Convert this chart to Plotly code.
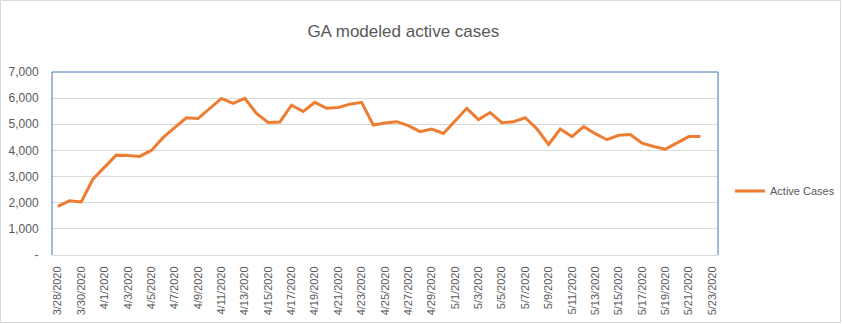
import datetime as dt
import plotly.graph_objects as go

# Daily modeled active cases, starting 3/28/2020
start_date = dt.date(2020, 3, 28)
active_cases = [
    1860, 2070, 2030, 2900, 3360, 3820, 3810, 3770, 4000, 4490,
    4870, 5250, 5220, 5610, 5990, 5800, 5990, 5420, 5070, 5090,
    5730, 5490, 5840, 5610, 5640, 5770, 5840, 4970, 5050, 5100,
    4950, 4720, 4820, 4650, 5130, 5610, 5180, 5450, 5060, 5100,
    5250, 4830, 4230, 4820, 4530, 4910, 4640, 4410, 4580, 4610,
    4280, 4150, 4050, 4300, 4530, 4530,
]
dates = [start_date + dt.timedelta(days=i) for i in range(len(active_cases))]

# Axis ticks
y_tickvals = [0, 1000, 2000, 3000, 4000, 5000, 6000, 7000]
y_ticktext = ["-", "1,000", "2,000", "3,000", "4,000", "5,000", "6,000", "7,000"]
axis_end = dt.date(2020, 5, 23)
x_tickvals = []
d = start_date
while d <= axis_end:
    x_tickvals.append(d)
    d += dt.timedelta(days=2)
x_ticktext = [f"{t.month}/{t.day}/{t.year}" for t in x_tickvals]

FONT = "Liberation Sans"
GREY_TEXT = "#595959"

PLOT_L, PLOT_R, PLOT_T, PLOT_B = 52, 718, 72, 255
W, H = 842, 324
plot_w = PLOT_R - PLOT_L
plot_h = PLOT_B - PLOT_T

fig = go.Figure()
fig.add_trace(go.Scatter(
    x=dates, y=active_cases, mode="lines", name="Active Cases",
    line=dict(color="#ED7D31", width=3),
))

half_day = dt.timedelta(hours=12)
fig.update_layout(
    width=W, height=H,
    margin=dict(l=PLOT_L, r=W - PLOT_R, t=PLOT_T, b=H - PLOT_B, autoexpand=False),
    paper_bgcolor="white", plot_bgcolor="white",
    font=dict(family=FONT, color=GREY_TEXT),
    title=dict(text="GA modeled active cases", x=0.479, xanchor="center",
               y=0.905, yanchor="middle",
               font=dict(family=FONT, size=17, color=GREY_TEXT)),
    showlegend=True,
    legend=dict(x=(730 - PLOT_L) / plot_w, xanchor="left",
                y=(PLOT_B - 191) / plot_h, yanchor="middle",
                font=dict(family=FONT, size=11, color=GREY_TEXT),
                bgcolor="rgba(0,0,0,0)", itemwidth=30),
    xaxis=dict(
        type="date",
        range=[dt.datetime.combine(start_date, dt.time()) - half_day,
               dt.datetime.combine(axis_end, dt.time()) + half_day],
        tickmode="array", tickvals=x_tickvals, ticktext=x_ticktext,
        tickangle=-90, tickfont=dict(family=FONT, size=11, color=GREY_TEXT),
        showgrid=False, showline=True, linecolor="#D9D9D9", linewidth=1,
        ticks="outside", ticklen=6, tickcolor="rgba(0,0,0,0)",
        zeroline=False, fixedrange=True, automargin=False,
    ),
    yaxis=dict(
        range=[0, 7000],
        tickmode="array", tickvals=y_tickvals, ticktext=y_ticktext,
        tickfont=dict(family=FONT, size=12, color=GREY_TEXT),
        showgrid=True, gridcolor="#D9D9D9", gridwidth=1,
        showline=False, zeroline=False,
        ticks="outside", ticklen=10, tickcolor="rgba(0,0,0,0)",
        fixedrange=True, automargin=False,
    ),
)

# Blue frame on the left, top and right of the plot area
for x0, y0, x1, y1 in [(0, 0, 0, 1), (0, 1, 1, 1), (1, 0, 1, 1)]:
    fig.add_shape(type="line", xref="paper", yref="paper",
                  x0=x0, y0=y0, x1=x1, y1=y1,
                  line=dict(color="#4472C4", width=1))

# Light outer border of the chart area
fig.add_shape(type="rect", xref="paper", yref="paper",
              x0=(0.5 - PLOT_L) / plot_w, x1=(W - 1.5 - PLOT_L) / plot_w,
              y0=(PLOT_B - (H - 1.5)) / plot_h, y1=(PLOT_B - 0.5) / plot_h,
              line=dict(color="#D9D9D9", width=1), layer="below")

fig.write_html("out.html")
